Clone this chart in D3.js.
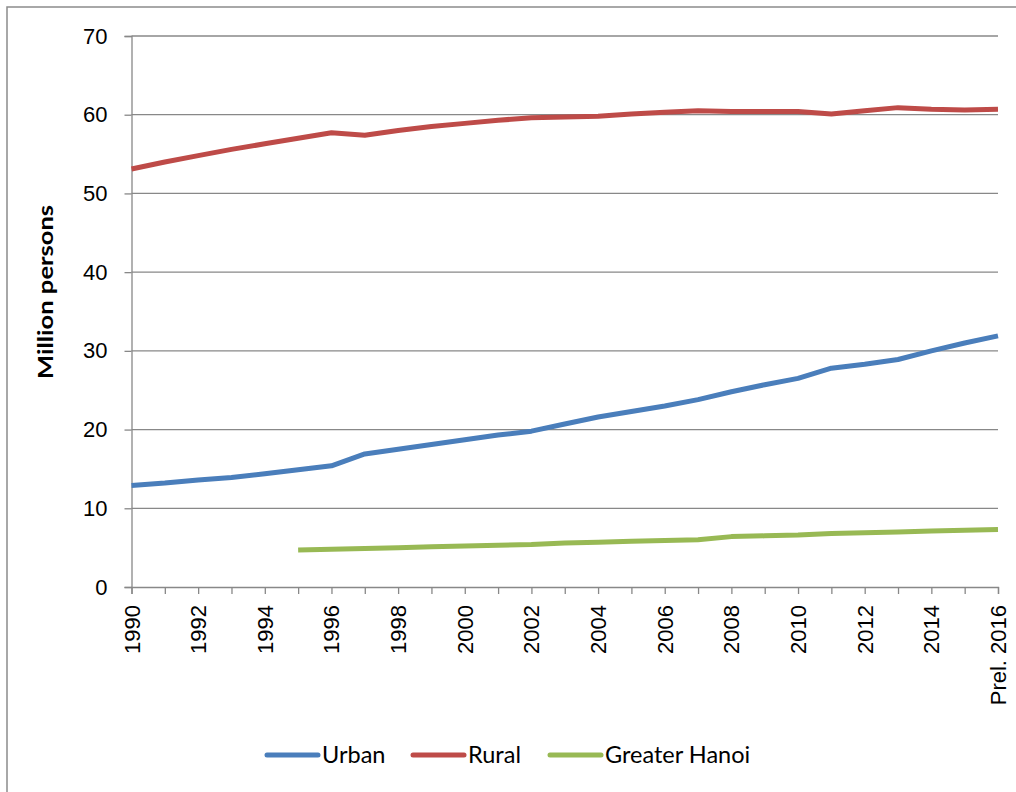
<!DOCTYPE html>
<html><head><meta charset="utf-8">
<script src="https://cdn.jsdelivr.net/npm/d3@7"></script>
<style>body{margin:0;background:#fff}</style>
</head><body>
<svg id="c" width="1016" height="792"></svg>
<script>
const years = d3.range(1990, 2017);
const yearLabels = ["1990","1992","1994","1996","1998","2000","2002","2004","2006","2008","2010","2012","2014","Prel. 2016"];
const labelYears = [1990,1992,1994,1996,1998,2000,2002,2004,2006,2008,2010,2012,2014,2016];
const urban = [12.9,13.2,13.6,13.9,14.4,14.9,15.4,16.9,17.5,18.1,18.7,19.3,19.8,20.7,21.6,22.3,23.0,23.8,24.8,25.7,26.5,27.8,28.3,28.9,30.0,31.0,31.9];
const rural = [53.1,54.0,54.8,55.6,56.3,57.0,57.7,57.4,58.0,58.5,58.9,59.3,59.6,59.7,59.8,60.1,60.3,60.5,60.4,60.4,60.4,60.1,60.5,60.9,60.7,60.6,60.7];
const hanoiYears = d3.range(1995, 2017);
const hanoi = [4.7,4.8,4.9,5.0,5.1,5.2,5.3,5.4,5.6,5.7,5.8,5.9,6.0,6.4,6.5,6.6,6.8,6.9,7.0,7.1,7.2,7.3];
const yTicks = [0,10,20,30,40,50,60,70];
const seriesNames = ["Urban","Rural","Greater Hanoi"];
const colors = ["#4a7ebb","#be4b48","#98b954"];

const svg = d3.select("#c");
svg.append("rect").attr("x",7).attr("y",7).attr("width",1100).attr("height",900)
  .attr("fill","none").attr("stroke","#8c8c8c").attr("stroke-width",1.5);

const x = d3.scaleLinear().domain([1990,2016]).range([131.5,998]);
const y = d3.scaleLinear().domain([0,70]).range([587,36]);

// gridlines
svg.append("g").selectAll("line").data(yTicks.filter(d=>d>0)).join("line")
  .attr("x1",131.5).attr("x2",998).attr("y1",d=>y(d)).attr("y2",d=>y(d))
  .attr("stroke","#888").attr("stroke-width",1.3);

// y axis
const ya = svg.append("g").attr("transform","translate(131.5,0)")
  .call(d3.axisLeft(y).tickValues(yTicks).tickSize(7).tickPadding(17));
ya.select(".domain").attr("stroke","#888").attr("stroke-width",1.3);
ya.selectAll(".tick line").attr("stroke","#888").attr("stroke-width",1.3);
ya.selectAll("text").attr("font-family","Liberation Sans, Arial").attr("font-size",22).attr("fill","#000");

// x axis
const xa = svg.append("g").attr("transform","translate(0,587)")
  .call(d3.axisBottom(x).tickValues(years).tickSize(7).tickFormat(""));
xa.select(".domain").attr("stroke","#888").attr("stroke-width",1.3);
xa.selectAll(".tick line").attr("stroke","#888").attr("stroke-width",1.3);
svg.append("g").selectAll("text").data(labelYears).join("text")
  .attr("transform",(d)=>`translate(${x(d)+8},605) rotate(-90)`)
  .attr("text-anchor","end")
  .attr("font-family","Liberation Sans, Arial").attr("font-size",22).attr("fill","#000")
  .text((d,i)=>yearLabels[i]);

// y title
svg.append("text").attr("transform","translate(53,292) rotate(-90)")
  .attr("text-anchor","middle").attr("font-family","Lato, Open Sans").attr("font-weight","bold")
  .attr("font-size",21).attr("textLength",174).attr("lengthAdjust","spacingAndGlyphs")
  .text("Million persons");

const line = d3.line().x(d=>x(d[0])).y(d=>y(d[1]));
const data = [years.map((yr,i)=>[yr,urban[i]]), years.map((yr,i)=>[yr,rural[i]]), hanoiYears.map((yr,i)=>[yr,hanoi[i]])];
svg.append("g").selectAll("path").data(data).join("path")
  .attr("d",line).attr("fill","none").attr("stroke",(d,i)=>colors[i])
  .attr("stroke-width",5).attr("stroke-linejoin","round");

// legend
const legX = [265,411,548];
const lg = svg.append("g").selectAll("g").data(seriesNames).join("g")
  .attr("transform",(d,i)=>`translate(${legX[i]},755)`);
lg.append("line").attr("x1",2).attr("x2",53).attr("stroke",(d,i)=>colors[i])
  .attr("stroke-width",5).attr("stroke-linecap","round");
lg.append("text").attr("x",57).attr("y",8).attr("font-family","Lato, Open Sans").attr("font-size",23.5)
  .text(d=>d);
</script>
</body></html>
